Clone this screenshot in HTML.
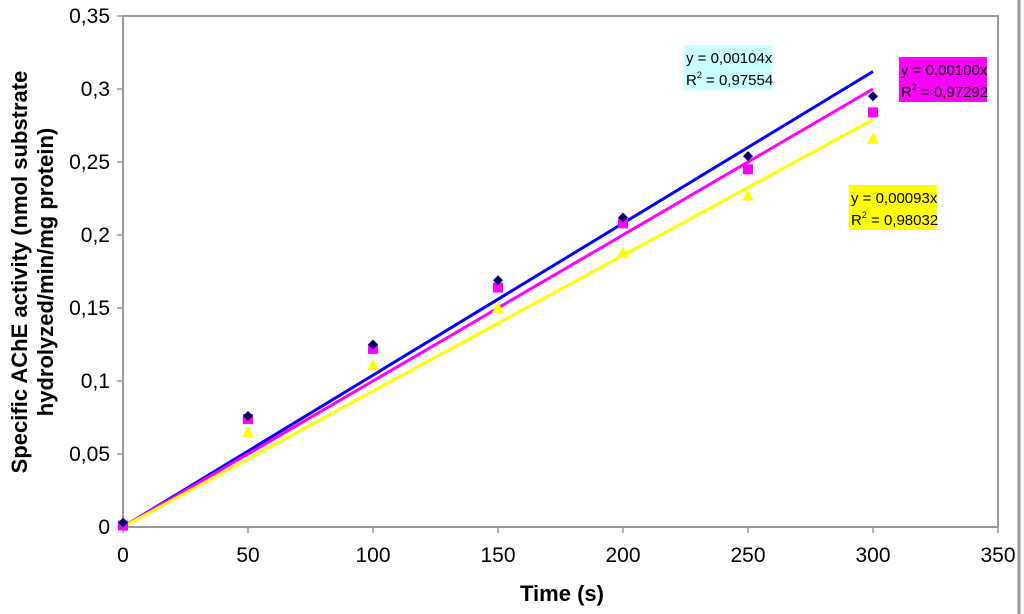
<!DOCTYPE html>
<html><head><meta charset="utf-8"><style>
body{margin:0;background:#fff;}
svg{display:block;font-family:"Liberation Sans",Arial,sans-serif;}
</style></head><body>
<svg id="chart" width="1024" height="614" viewBox="0 0 1024 614" xmlns="http://www.w3.org/2000/svg">
<rect x="0" y="0" width="1024" height="614" fill="#fff"/>
<line x1="1019" y1="0" x2="1019" y2="614" stroke="#999" stroke-width="3"/>
<g id="axes"></g>
<g id="lines"></g>
<g id="points"></g>
<g>
<rect x="684" y="45" width="88" height="45" fill="#ccffff"/>
<text x="686" y="63" font-size="15">y = 0,00104x</text>
<text x="686" y="85" font-size="15">R<tspan font-size="9" dy="-7">2</tspan><tspan dy="7"> = 0,97554</tspan></text>
</g>
<g>
<rect x="899" y="57" width="88" height="45" fill="#ff00ff"/>
<text x="901" y="75" font-size="15">y = 0,00100x</text>
<text x="901" y="97" font-size="15">R<tspan font-size="9" dy="-7">2</tspan><tspan dy="7"> = 0,97292</tspan></text>
</g>
<g>
<rect x="849" y="185" width="88" height="45" fill="#ffff00"/>
<text x="851" y="203" font-size="15">y = 0,00093x</text>
<text x="851" y="225" font-size="15">R<tspan font-size="9" dy="-7">2</tspan><tspan dy="7"> = 0,98032</tspan></text>
</g>
<text x="562" y="601" font-size="22" font-weight="bold" text-anchor="middle">Time (s)</text>
<text transform="translate(27,272) rotate(-90)" font-size="22" font-weight="bold" text-anchor="middle"><tspan x="0" y="0">Specific AChE activity (nmol substrate</tspan><tspan x="0" y="26">hydrolyzed/min/mg protein)</tspan></text>
</svg>
<script>
const times=[0,50,100,150,200,250,300];
const seriesA=[0.003,0.076,0.125,0.169,0.212,0.254,0.295];
const seriesB=[0.001,0.074,0.122,0.164,0.208,0.245,0.284];
const seriesC=[0.002,0.065,0.111,0.150,0.188,0.227,0.266];
const slopes=[0.00104,0.00100,0.00093];
const xTicks=[0,50,100,150,200,250,300,350];
const yTicks=[0,0.05,0.1,0.15,0.2,0.25,0.3,0.35];
const yTickLabels=["0","0,05","0,1","0,15","0,2","0,25","0,3","0,35"];
const NS="http://www.w3.org/2000/svg";
const X0=123,X1=998,Y0=527,Y1=16;
const sx=v=>X0+(v-0)/(350)*(X1-X0);
const sy=v=>Y0-(v/0.35)*(Y0-Y1);
function mk(tag,attrs,parent){const e=document.createElementNS(NS,tag);for(const k in attrs)e.setAttribute(k,attrs[k]);parent.appendChild(e);return e;}
const axes=document.getElementById('axes');
const frame=mk('rect',{x:X0,y:Y1,width:X1-X0,height:Y0-Y1,fill:'none',stroke:'#999','stroke-width':2},axes);


xTicks.forEach(t=>{
  const l=mk('line',{x1:sx(t),y1:Y0,x2:sx(t),y2:Y0+6,stroke:'#999','stroke-width':1.5},axes);
  
  
  const tx=mk('text',{x:sx(t),y:Y0+35,'font-size':21,'text-anchor':'middle'},axes);
  tx.textContent=String(t);
  
  
});
yTicks.forEach((t,i)=>{
  const l=mk('line',{x1:X0-6,y1:sy(t),x2:X0,y2:sy(t),stroke:'#999','stroke-width':1.5},axes);
  
  
  const tx=mk('text',{x:X0-13,y:sy(t)+7,'font-size':21,'text-anchor':'end'},axes);
  tx.textContent=yTickLabels[i];
  
  
});
const lineG=document.getElementById('lines');
const colors=['#0000ff','#ff00ff','#ffff00'];
const lineNames=['trendline-blue','trendline-magenta','trendline-yellow'];
slopes.forEach((s,i)=>{
  const l=mk('line',{x1:sx(0),y1:sy(0),x2:sx(300),y2:sy(300*s),stroke:colors[i],'stroke-width':3},lineG);
  
  
});
const pg=document.getElementById('points');
times.forEach((t,i)=>{
  const x=sx(t);
  let y=sy(seriesC[i]);
  const tr=mk('polygon',{points:`${x},${y-6} ${x+6},${y+5} ${x-6},${y+5}`,fill:'#ffff00'},pg);
  
  
  y=sy(seriesB[i]);
  const sq=mk('rect',{x:x-5,y:y-5,width:10,height:10,fill:'#ff00ff'},pg);
  
  
  y=sy(seriesA[i]);
  const d=mk('polygon',{points:`${x},${y-5} ${x+5},${y} ${x},${y+5} ${x-5},${y}`,fill:'#000066'},pg);
  
  
});
</script>
</body></html>
